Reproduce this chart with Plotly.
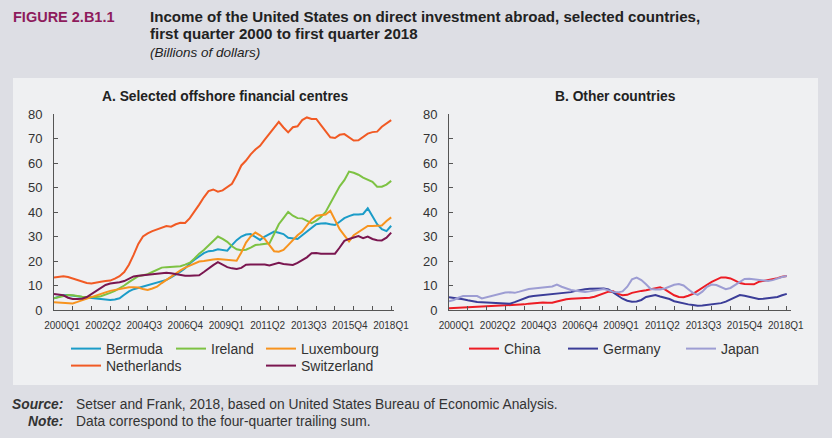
import plotly.graph_objects as go

# ---------------- data ----------------
quarters = [f"{y}Q{q}" for y in range(2000, 2019) for q in range(1, 5)][:73]
tick_labels = ["2000Q1", "2002Q2", "2004Q3", "2006Q4", "2009Q1",
               "2011Q2", "2013Q3", "2015Q4", "2018Q1"]
y_ticks = [0, 10, 20, 30, 40, 50, 60, 70, 80]

bermuda = [4.8, 5.5, 6.0, 6.1, 6.0, 5.6, 5.3, 5.1, 5.0, 4.8, 4.5, 4.3, 4.1, 4.3, 4.8, 6.2,
           7.6, 8.5, 9.0, 9.5, 10.0, 10.5, 11.2, 11.8, 12.3, 13.3, 14.3, 15.6, 17.0, 19.0,
           20.5, 22.0, 23.2, 24.0, 24.2, 24.8, 24.6, 24.2, 26.5, 28.5, 30.0, 30.8, 31.0,
           29.8, 28.6, 30.0, 31.0, 32.0, 31.5, 31.0, 29.5, 29.2, 29.0, 30.5, 32.0, 33.5,
           35.0, 35.3, 35.4, 35.0, 34.7, 36.0, 37.5, 38.3, 39.0, 39.0, 39.2, 41.5, 38.0,
           35.0, 33.0, 32.2, 34.4]
ireland = [4.8, 5.3, 5.8, 6.1, 6.0, 5.6, 5.4, 5.3, 5.2, 5.3, 5.6, 6.2, 7.0, 7.8, 8.8, 10.0,
           11.4, 12.6, 13.8, 14.2, 14.6, 15.5, 16.5, 17.3, 17.5, 17.7, 17.9, 17.9, 18.5,
           19.3, 21.0, 23.0, 24.5, 26.3, 28.0, 30.0, 29.0, 27.8, 26.0, 24.8, 24.4, 24.6,
           25.5, 26.5, 26.7, 26.9, 27.2, 31.0, 35.0, 37.5, 40.0, 38.5, 37.5, 37.4, 36.5,
           35.5, 36.5, 38.0, 40.0, 43.5, 47.0, 50.5, 53.0, 56.5, 56.0, 55.2, 54.0, 53.0,
           52.3, 50.3, 50.3, 51.2, 52.7]
luxembourg = [3.2, 3.1, 2.8, 2.6, 2.7, 3.3, 4.0, 4.6, 5.3, 6.1, 6.6, 7.2, 7.8, 8.2, 8.6, 9.0,
              9.3, 9.3, 9.2, 8.6, 8.2, 8.8, 9.5, 11.0, 12.3, 13.8, 15.0, 16.2, 17.3, 18.2,
              19.0, 19.8, 20.0, 20.4, 20.6, 20.8, 20.6, 20.4, 20.2, 20.1, 23.5, 27.5, 30.0,
              31.6, 30.5, 29.0, 26.5, 24.0, 23.8, 24.5, 26.5, 28.6, 30.5, 32.0, 34.5, 37.0,
              38.5, 38.8, 39.0, 40.5, 37.0, 33.0, 30.5, 28.0, 30.5, 31.8, 33.0, 34.3, 34.3,
              34.4, 34.5, 36.3, 37.8]
netherlands = [13.3, 13.7, 13.8, 13.5, 12.8, 12.2, 11.5, 11.0, 10.8, 11.0, 11.5, 11.8, 12.0,
               12.8, 13.8, 15.5, 18.5, 22.5, 27.0, 30.0, 31.3, 32.2, 33.0, 33.8, 34.3, 34.0,
               35.0, 35.6, 35.5, 37.5, 40.0, 43.0, 46.0, 48.5, 49.2, 48.3, 48.8, 50.0, 51.5,
               55.0, 59.0, 61.0, 63.5, 65.5, 67.0, 69.5, 72.0, 74.5, 76.8, 74.5, 72.5, 74.6,
               75.0, 77.5, 78.6, 78.0, 78.0, 75.5, 73.0, 70.5, 70.2, 71.5, 71.8, 70.5, 69.2,
               69.3, 70.5, 72.0, 72.6, 72.8, 74.8, 76.0, 77.5]
switzerland = [6.5, 6.3, 6.0, 5.0, 4.5, 4.5, 4.6, 5.3, 6.5, 7.5, 8.9, 10.2, 10.8, 10.9, 11.3,
               11.8, 12.8, 13.7, 14.0, 14.2, 14.3, 14.5, 14.8, 15.2, 15.2, 15.0, 14.6, 14.2,
               14.0, 14.0, 14.0, 14.2, 15.5, 17.0, 18.3, 19.5, 18.6, 17.5, 17.0, 16.7, 17.2,
               18.5, 18.6, 18.6, 18.5, 18.6, 18.2, 18.8, 19.3, 18.8, 18.6, 18.4, 19.2, 20.4,
               21.5, 23.2, 23.3, 23.0, 22.9, 22.9, 23.0, 25.5, 28.2, 29.0, 29.5, 30.2, 29.3,
               30.0, 29.0, 28.5, 28.4, 29.5, 31.6]

china = [0.7, 0.8, 0.8, 0.9, 0.9, 1.0, 1.1, 1.2, 1.3, 1.4, 1.5, 1.6, 1.7, 1.8, 1.9, 2.0, 2.3,
         2.6, 2.8, 3.0, 3.1, 3.0, 3.0, 3.5, 4.0, 4.4, 4.6, 4.7, 4.8, 4.8, 5.0, 5.4, 6.0, 6.7,
         7.5, 7.6, 6.6, 6.0, 6.2, 7.0, 7.5, 7.8, 8.1, 8.4, 9.0, 9.3, 8.4, 7.2, 6.0, 5.3, 5.2,
         5.8, 6.6, 7.8, 9.2, 10.3, 11.5, 12.4, 13.3, 13.3, 12.9, 12.0, 11.0, 10.6, 10.5,
         10.5, 11.5, 11.8, 12.1, 12.6, 13.0, 13.6, 13.9]
germany = [5.2, 5.0, 4.8, 4.4, 4.0, 3.5, 3.3, 3.2, 3.1, 3.0, 3.0, 2.7, 2.5, 2.6, 3.2, 4.0,
           4.8, 5.4, 5.7, 5.9, 6.1, 6.2, 6.5, 6.8, 6.9, 7.1, 7.3, 7.8, 8.3, 8.5, 8.7, 8.8,
           8.8, 8.8, 8.4, 7.2, 5.7, 4.6, 3.8, 3.4, 3.5, 4.1, 5.3, 5.8, 6.1, 5.5, 5.0, 4.5,
           3.6, 3.1, 2.8, 2.3, 2.0, 1.7, 1.8, 2.0, 2.2, 2.4, 2.8, 3.4, 4.2, 5.2, 6.1, 5.8,
           5.4, 5.0, 4.5, 4.6, 4.8, 5.0, 5.3, 6.0, 6.6]
japan = [3.6, 4.1, 5.0, 5.7, 5.7, 5.7, 5.7, 4.7, 5.2, 5.9, 6.4, 6.8, 7.1, 7.2, 7.0, 7.5, 8.2,
         8.6, 8.8, 9.1, 9.3, 9.4, 9.6, 10.4, 9.5, 8.8, 8.2, 7.9, 7.6, 7.4, 7.6, 8.0, 8.4,
         8.6, 8.0, 7.4, 7.2, 7.6, 9.5, 12.5, 13.2, 12.2, 10.5, 8.6, 8.4, 8.4, 8.8, 9.6,
         10.3, 10.6, 10.0, 8.5, 7.0, 6.2, 7.5, 9.5, 10.4, 10.2, 9.2, 8.5, 9.0, 10.3, 11.3,
         12.7, 12.8, 12.5, 12.3, 12.1, 11.8, 12.2, 13.0, 13.5, 13.9]

panel_a = [("Bermuda", bermuda, "#1b9cc8"), ("Ireland", ireland, "#7dc243"),
           ("Luxembourg", luxembourg, "#f7931e"), ("Netherlands", netherlands, "#f15a24"),
           ("Switzerland", switzerland, "#7a1650")]
panel_b = [("China", china, "#ed1c24"), ("Germany", germany, "#3b3d98"),
           ("Japan", japan, "#9d9dd3")]

# ---------------- layout helpers ----------------
W, H = 832, 438
BG = "#dddee4"
def px(x):
    return x / W
def py(y):
    return 1 - y / H

FONT = "Liberation Sans, Arial, sans-serif"
AX = "#555555"
TXT = "#333333"

# legend placement (line start x, row centre y) in pixels
leg_pos_a = {"Bermuda": (70, 349), "Ireland": (175, 349), "Luxembourg": (265, 349),
             "Netherlands": (70, 366), "Switzerland": (265, 366)}
leg_pos_b = {"China": (468, 349), "Germany": (567, 349), "Japan": (685, 349)}

fig = go.Figure()
legend_layout = {}
k = 1
for (name, vals, col), (xa, ya) in [(p, ("x", "y")) for p in panel_a] + [(p, ("x2", "y2")) for p in panel_b]:
    lname = "legend" if k == 1 else f"legend{k}"
    fig.add_trace(go.Scatter(x=quarters, y=vals, name=name, mode="lines",
                             line=dict(color=col, width=2), xaxis=xa, yaxis=ya,
                             legend=lname, hovertemplate="%{x}: %{y}<extra>" + name + "</extra>"))
    lx, ly = (leg_pos_a.get(name) or leg_pos_b.get(name))
    legend_layout[lname] = dict(x=px(lx - 4), y=py(ly), xanchor="left", yanchor="middle",
                                bgcolor="rgba(0,0,0,0)", borderwidth=0,
                                font=dict(family=FONT, size=14, color=TXT),
                                itemwidth=30, orientation="v")
    k += 1

common_y = dict(range=[0, 80], tickvals=y_ticks, ticks="inside", ticklen=4,
                tickcolor=AX, showline=True, linecolor=AX, linewidth=1,
                showgrid=False, zeroline=False, ticklabelstandoff=8, automargin=False,
                tickfont=dict(family=FONT, size=13, color=TXT),
                domain=[py(310), py(114)])
common_x = dict(type="category", tickvals=quarters[::4], ticks="inside", ticklen=4,
                tickcolor=AX, showline=True, linecolor=AX, linewidth=1, automargin=False,
                showgrid=False, zeroline=False, showticklabels=False)
lab_x = dict(type="linear", tickvals=[quarters.index(t) for t in tick_labels],
             ticktext=tick_labels, ticks="", showline=False, showgrid=False,
             zeroline=False, ticklabelstandoff=8, automargin=False,
             tickfont=dict(family=FONT, size=10, color=TXT))

fig.update_layout(
    width=W, height=H, margin=dict(l=0, r=0, t=0, b=0, autoexpand=False),
    paper_bgcolor=BG, plot_bgcolor="rgba(0,0,0,0)",
    xaxis=dict(common_x, domain=[px(54), px(394)], range=[0, 72.6], anchor="y"),
    yaxis=dict(common_y, anchor="x"),
    xaxis2=dict(common_x, domain=[px(449), px(791)], range=[0, 72.9], anchor="y2"),
    yaxis2=dict(common_y, anchor="x2"),
    xaxis3=dict(lab_x, overlaying="x", anchor="y", range=[-1.76, 72.66]),
    xaxis4=dict(lab_x, overlaying="x2", anchor="y2", range=[-1.64, 73.14]),
    showlegend=True,
    **legend_layout,
)
# empty traces so the label axes are drawn
fig.add_trace(go.Scatter(x=[], y=[], xaxis="x3", yaxis="y", showlegend=False, hoverinfo="skip"))
fig.add_trace(go.Scatter(x=[], y=[], xaxis="x4", yaxis="y2", showlegend=False, hoverinfo="skip"))

# inner panel background
fig.add_shape(type="rect", xref="paper", yref="paper", x0=px(13), x1=px(818),
              y0=py(385), y1=py(78), fillcolor="#eff0f2", line=dict(width=0), layer="below")

def note(text, x, y, size, xanchor="left", color="#222222", bold=False, italic=False):
    t = text
    if bold:
        t = f"<b>{t}</b>"
    if italic:
        t = f"<i>{t}</i>"
    fig.add_annotation(text=t, xref="paper", yref="paper", x=px(x), y=py(y),
                       xanchor=xanchor, yanchor="middle", showarrow=False,
                       font=dict(family=FONT, size=size, color=color))

note("FIGURE 2.B1.1", 11, 17, 14.5, color="#8e1b5c", bold=True)
note("Income of the United States on direct investment abroad, selected countries,", 148, 17, 15.1, bold=True)
note("first quarter 2000 to first quarter 2018", 148, 34, 15.1, bold=True)
note("(Billions of dollars)", 148, 53, 13.5, italic=True)
note("A. Selected offshore financial centres", 224.5, 97, 13.8, xanchor="center", bold=True)
note("B. Other countries", 615.5, 97, 13.8, xanchor="center", bold=True)
note("Source:", 65, 404, 13.8, xanchor="right", color=TXT, bold=True, italic=True)
note("Setser and Frank, 2018, based on United States Bureau of Economic Analysis.", 74, 404, 13.8, color=TXT)
note("Note:", 65, 421, 13.8, xanchor="right", color=TXT, bold=True, italic=True)
note("Data correspond to the four-quarter trailing sum.", 74, 421, 13.8, color=TXT)

# remove the page's default body margin so the figure sits at the window origin
fig.write_html("out.html", config={"displayModeBar": False},
               post_script=f"document.body.style.margin='0';document.body.style.background='{BG}';")
